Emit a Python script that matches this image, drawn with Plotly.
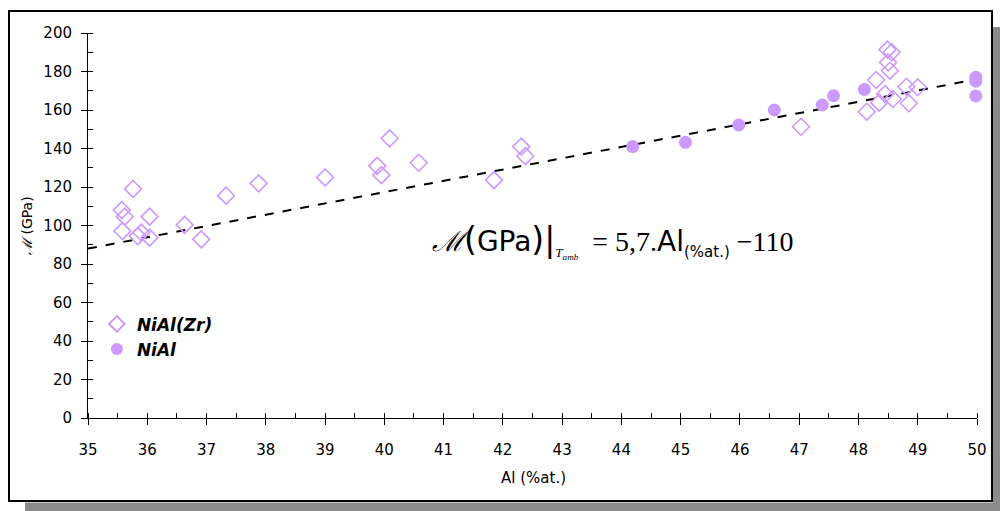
import plotly.graph_objects as go

# NiAl(Zr) open diamonds
zr_x = [35.57, 35.62, 35.76, 35.58, 35.84, 35.90, 36.04, 36.04, 36.63, 36.91, 37.33, 37.88,
        39.00, 39.88, 39.95, 40.09, 40.58, 41.85, 42.31, 42.38,
        47.03, 48.14, 48.30, 48.35, 48.45, 48.49, 48.56, 48.50, 48.53, 48.58, 48.81, 48.85, 49.00]
zr_y = [108, 104.6, 119, 97.1, 94.5, 96.3, 104.6, 93.7, 100.3, 92.8, 115.5, 121.9,
        125, 131, 126.2, 145.3, 132.6, 123.6, 141, 136,
        151.3, 159.1, 175.6, 163.8, 168.3, 191.4, 190, 184.7, 180.4, 165.7, 172.1, 163.5, 171.8]

# NiAl filled circles
ni_x = [44.19, 45.08, 45.98, 46.58, 47.39, 47.58, 48.10, 49.98, 49.98, 49.98]
ni_y = [141, 143.2, 152.2, 160, 162.6, 167.4, 170.7, 177, 175, 167.3]

# fitted line
fit_x = [35, 50]
fit_y = [88, 176]

x_ticks = list(range(35, 51))
y_ticks = list(range(0, 201, 20))

purple = "#CC99FF"

fig = go.Figure()
fig.add_trace(go.Scatter(x=fit_x, y=fit_y, mode="lines",
                         line=dict(color="black", width=2, dash="dash"),
                         showlegend=False, hoverinfo="skip"))
fig.add_trace(go.Scatter(x=zr_x, y=zr_y, mode="markers", name="<b><i>NiAl(Zr)</i></b>",
                         marker=dict(symbol="diamond-open", size=13, color=purple,
                                     line=dict(color=purple, width=1.6)),
                         cliponaxis=False))
fig.add_trace(go.Scatter(x=ni_x, y=ni_y, mode="markers", name="<b><i>NiAl</i></b>",
                         marker=dict(symbol="circle", size=13, color=purple,
                                     line=dict(width=0)),
                         cliponaxis=False))

L, R, T, B = 88, 23, 33, 93
W, H = 1000, 511
pw, ph = W - L - R, H - T - B


def px(x):
    return (x - L) / pw


def py(y):
    return (H - B - y) / ph


shapes = [
    # shadow right
    dict(type="rect", xref="paper", yref="paper", x0=px(993), x1=px(1000), y0=py(511), y1=py(27),
         fillcolor="#8a8a8a", line=dict(width=0), layer="below"),
    # shadow bottom
    dict(type="rect", xref="paper", yref="paper", x0=px(25), x1=px(1000), y0=py(511), y1=py(502.5),
         fillcolor="#8a8a8a", line=dict(width=0), layer="below"),
    # frame
    dict(type="rect", xref="paper", yref="paper", x0=px(9), x1=px(992), y0=py(501), y1=py(11),
         fillcolor="rgba(0,0,0,0)", line=dict(color="black", width=2), layer="below"),
]

eq = ("<span style=\"font-family:'Liberation Serif'\"><i>ℳ</i></span>"
      "<span style=\"font-size:33px\">(</span>GPa<span style=\"font-size:33px\">)</span>"
      "<span style=\"font-size:33px\">|</span>"
      "<sub><span style=\"font-family:'Liberation Serif';font-size:13px\"><i>T</i><sub><i>amb</i></sub></span></sub>"
      "<span style=\"font-family:'Liberation Serif'\">  = 5,7.</span>Al"
      "<sub><span style=\"font-size:15px\">(%at.)</span></sub>"
      "<span style=\"font-family:'Liberation Serif'\"> −110</span>")

annotations = [
    dict(x=43.85, y=92, xref="x", yref="y", text=eq, showarrow=False,
         font=dict(family="DejaVu Sans", size=28, color="black"), xanchor="center", yanchor="middle"),
    dict(x=px(27), y=py(226), xref="paper", yref="paper", xanchor="center", yanchor="middle",
         text="<span style=\"font-family:'Liberation Serif'\"><i>ℳ</i></span> (GPa)",
         textangle=-90, showarrow=False, font=dict(family="DejaVu Sans", size=14, color="black")),
    dict(x=px(533), y=py(478), xref="paper", yref="paper", text="Al (%at.)",
         xanchor="center", yanchor="middle",
         showarrow=False, font=dict(family="DejaVu Sans", size=15, color="black")),
]

fig.update_layout(
    width=W, height=H,
    margin=dict(l=L, r=R, t=T, b=B),
    paper_bgcolor="white", plot_bgcolor="white",
    shapes=shapes, annotations=annotations,
    legend=dict(x=0.01, y=0.29, xanchor="left", yanchor="top", bgcolor="rgba(0,0,0,0)",
                font=dict(family="DejaVu Sans", size=17, color="black"),
                itemsizing="constant", itemwidth=30, tracegroupgap=2),
    showlegend=True,
)
fig.update_xaxes(range=[35, 50], tickvals=x_ticks, ticktext=[str(v) for v in x_ticks],
                 showgrid=False, zeroline=False, showline=True, linecolor="black", linewidth=1,
                 ticks="outside", ticklen=6, tickcolor="black", ticklabelstandoff=12,
                 tickfont=dict(family="DejaVu Sans", size=15, color="black"),
                 minor=dict(dtick=0.5, ticks="inside", ticklen=5, tickcolor="black"))
fig.update_yaxes(range=[0, 200], tickvals=y_ticks, ticktext=[str(v) for v in y_ticks],
                 showgrid=False, zeroline=False, showline=True, linecolor="black", linewidth=1,
                 ticks="outside", ticklen=6, tickcolor="black", ticklabelstandoff=6,
                 tickfont=dict(family="DejaVu Sans", size=15, color="black"),
                 minor=dict(dtick=10, ticks="inside", ticklen=5, tickcolor="black"))

fig.write_html("out.html", config={"displayModeBar": False},
               post_script="document.body.style.margin='0px';")
